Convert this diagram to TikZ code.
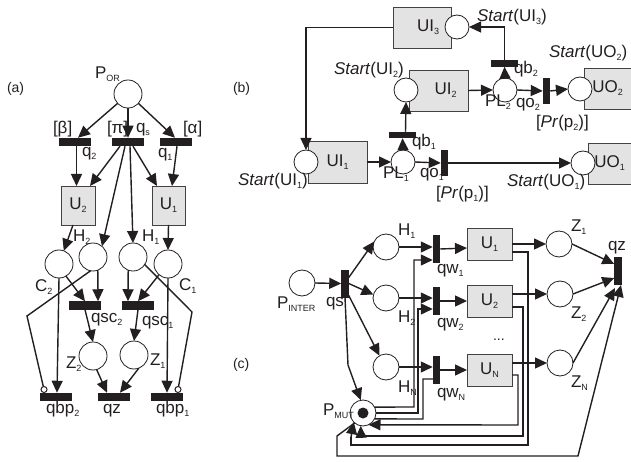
\documentclass[tikz,border=0pt]{standalone}
\usepackage{fontspec}
\setmainfont{Liberation Sans}
\usetikzlibrary{arrows.meta}
\newcommand\sbb[1]{\raisebox{-3pt}{\fontsize{9}{10}\selectfont #1}}
\definecolor{ink}{HTML}{231F20}
\tikzset{
 plc/.style={circle,draw=ink,fill=white,line width=0.8pt,minimum size=#1,inner sep=0pt,outer sep=0pt},
 plc/.default=28pt,
 brh/.style={rectangle,fill=ink,minimum width=32pt,minimum height=8.5pt,inner sep=0pt,outer sep=0pt},
 brhs/.style={rectangle,fill=ink,minimum width=27pt,minimum height=6.5pt,inner sep=0pt,outer sep=0pt},
 brv/.style={rectangle,fill=ink,minimum width=7.5pt,minimum height=28pt,inner sep=0pt,outer sep=0pt},
 ubox/.style={rectangle,draw=ink!85,fill=black!11,line width=0.9pt,minimum width=#1,inner sep=0pt,outer sep=0pt,text=ink},
 lbl/.style={anchor=base west,inner sep=0pt,outer sep=0pt,text=ink},
 arr/.style={draw=ink,line width=1.4pt,-{Triangle[length=12pt,width=11pt]}},
 wire/.style={draw=ink,line width=1.4pt},
 inh/.style={circle,draw=ink,fill=white,line width=1pt,minimum size=6pt,inner sep=0pt,outer sep=0pt},
 tok/.style={circle,fill=ink,minimum size=11pt,inner sep=0pt,outer sep=0pt}
}
\begin{document}
\begin{tikzpicture}[x=1pt,y=-1pt,font=\fontsize{17}{19}\selectfont]
\useasboundingbox (0,0) rectangle (631,462);
% ---------- (a)
\node[plc] (por) at (128,94) {};
\node[brh] (bb) at (75,142) {};
\node[brh] (pb) at (128,142) {};
\node[brh] (ab) at (176,142) {};
\node[ubox=34pt,minimum height=39pt] (u2) at (78,205.5) {U\sbb{2}};
\node[ubox=33pt,minimum height=39pt] (u1) at (168.5,205.5) {U\sbb{1}};
\node[plc] (c2) at (59,264) {};
\node[plc] (h2) at (93,257) {};
\node[plc] (h1) at (133,257) {};
\node[plc] (c1) at (168,264) {};
\node[brh] (qsc2) at (85,305.5) {};
\node[brh] (qsc1) at (138,305.5) {};
\node[plc] (z2) at (93,356) {};
\node[plc] (z1) at (134,355) {};
\node[brh] (qbp2) at (56,397) {};
\node[brh] (qza) at (114,397) {};
\node[brh] (qbp1) at (167,397) {};
\node[inh] (i2) at (44,389.5) {};
\node[inh] (i1) at (178,389.5) {};
\coordinate (k2) at (27,316);
\coordinate (k1) at (192,312);
\draw[arr] (por.222) -- ([xshift=3]bb.north);
\draw[arr] (por.south) -- (pb.north);
\draw[arr] (por.-42) -- ([xshift=-1]ab.north);
\draw[arr] ([xshift=1.5]bb.south) -- ([xshift=-1.5]u2.north);
\draw[arr] ([xshift=-8]pb.south) -- ([xshift=12]u2.north);
\draw[arr] ([xshift=-3]pb.south) -- (h2.50);
\draw[arr] ([xshift=2]pb.south) -- (h1.north);
\draw[arr] ([xshift=5]pb.south) -- ([xshift=-11.5]u1.north);
\draw[arr] ([xshift=1]ab.south) -- ([xshift=3.5]u1.north);
\draw[arr] ([xshift=-5]u2.south) -- (c2.70);
\draw[arr] (u1.south) -- (c1.north);
\draw[arr] (h2.-70) -- ([xshift=13]qsc2.north);
\draw[arr] (c2.-60) -- (qsc2.north);
\draw[arr] (h1.-110) -- ([xshift=-10]qsc1.north);
\draw[arr] (c1.-130) -- (qsc1.north);
\draw[arr] (qsc2.south) -- (z2.north);
\draw[arr] (qsc1.south) -- (z1.north);
\draw[arr] (z2.-75) -- ([xshift=-7]qza.north);
\draw[arr] (z1.-70) -- ([xshift=6]qza.north);
\draw[arr] (c2.south) -- ([xshift=1]qbp2.north);
\draw[arr] (c1.south) -- (qbp1.north);
\draw[wire] (h2.-100) -- (k2) -- (i2);
\draw[wire] (h1.-33) -- (k1) -- (i1);
% ---------- (b)
\node[ubox=58pt,minimum height=41pt] (ui3) at (422,27.5) {\hspace*{12pt}UI\sbb{3}};
\node[ubox=59pt,minimum height=41pt] (ui2) at (438.5,90.5) {\hspace*{14pt}UI\sbb{2}};
\node[ubox=59pt,minimum height=42pt] (ui1) at (337.5,162) {UI\sbb{1}};
\node[ubox=47pt,minimum height=41pt] (uo2) at (607.5,88.5) {UO\sbb{2}};
\node[ubox=43pt,minimum height=41pt] (uo1) at (609.5,163.5) {UO\sbb{1}};
\node[plc=24pt] (sui3) at (457,27) {};
\node[plc=24pt] (sui2) at (406,90) {};
\node[plc=24pt] (sui1) at (306,162) {};
\node[plc=24pt] (pl1) at (403,162) {};
\node[plc=24pt] (pl2) at (505,90) {};
\node[plc=24pt] (suo2) at (580,89) {};
\node[plc=24pt] (suo1) at (583,163) {};
\node[brhs] (qb1) at (402.5,135) {};
\node[brhs] (qb2) at (504.5,63.5) {};
\node[brv,minimum height=26pt] (qo2) at (546.5,91) {};
\node[brv,minimum height=26pt] (qo1) at (444.5,163) {};
\draw[arr] (ui3.west) -| (sui1.north);
\draw[arr] (ui1.east) -- (pl1.west);
\draw[arr] (pl1.north) -- (qb1.south);
\draw[arr] ([xshift=3]qb1.north) -- (sui2.south);
\draw[arr] (pl1.east) -- (qo1.west);
\draw[arr] (qo1.east) -- (suo1.west);
\draw[arr] (ui2.east) -- (pl2.west);
\draw[arr] (pl2.north) -- (qb2.south);
\draw[arr] (qb2.north) |- (sui3.east);
\draw[arr] (pl2.east) -- (qo2.west);
\draw[arr] (qo2.east) -- (suo2.west);
% ---------- (c)
\node[plc=26pt] (pint) at (302,283) {};
\node[brv] (qsn) at (345,283.5) {};
\node[plc=26pt] (ch1) at (386,247) {};
\node[plc=26pt] (ch2) at (386,298) {};
\node[plc=26pt] (chn) at (386,367) {};
\node[brv] (qw1) at (436.5,249) {};
\node[brv] (qw2) at (436.5,301) {};
\node[brv] (qwn) at (436.5,370) {};
\node[ubox=45pt,minimum height=32pt] (cu1) at (489.5,244) {U\sbb{1}};
\node[ubox=45pt,minimum height=32pt] (cu2) at (489.5,301) {U\sbb{2}};
\node[ubox=45pt,minimum height=32pt] (cun) at (489.5,370) {U\sbb{N}};
\node[plc=26pt] (cz1) at (559,244) {};
\node[plc=26pt] (cz2) at (560,294) {};
\node[plc=26pt] (czn) at (560,363) {};
\node[brv] (qzc) at (618,271) {};
\node[plc=26pt] (pm) at (363,413) {};
\node[tok] (tk) at (363,413) {};
\draw[arr] (pint.east) -- (qsn.west);
\draw[arr] ([yshift=6]qsn.east) -- (ch1.155);
\draw[arr] (qsn.east) -- (ch2.165);
\draw[arr] ([yshift=-12]qsn.east) -- (chn.120);
\draw[arr] (qsn.south) -- (348,365) -- (pm.100);
\draw[arr] (ch1.east) -- ([yshift=2]qw1.west);
\draw[arr] (ch2.east) -- ([yshift=3]qw2.west);
\draw[arr] (chn.east) -- ([yshift=3]qwn.west);
\draw[arr] (qw1.east) -- ([yshift=1]qw1.east -| cu1.west);
\draw[arr] (qw2.east) -- (cu2.west);
\draw[arr] (qwn.east) -- (cun.west);
\draw[arr] (cu1.east) -- (cz1.west);
\draw[arr] ([yshift=7]cu2.east) -- (cz2.west);
\draw[arr] ([yshift=7]cun.east) -- (czn.west);
\draw[arr] (cz1.east) -- ([yshift=7]qzc.west);
\draw[arr] (cz2.east) -- ([yshift=-7]qzc.west);
\draw[arr] (czn.east) -- ([xshift=-3,yshift=-3]qzc.south);
\draw[arr] (pm.27) -- (414,407) -- (414,260) -- ([yshift=-11]qw1.west);
\draw[arr] (pm.0) -- (418,413) -- (418,309) -- ([yshift=-8]qw2.west);
\draw[wire] (pm.-27) -- (423,419) -- (423,379) -- ([yshift=-9]qwn.center);
\draw[wire] ([yshift=-8]cu1.east) -- (528,252) -- (528,445) -- (351,445) -- (351,437);
\draw[arr] (351,437) -- (pm.-135);
\draw[wire] ([yshift=-6]cu2.east) -- (523,307) -- (523,436) -- (361,436);
\draw[arr] (361,436) -- (pm.-100);
\draw[arr] ([yshift=-5]cun.east) -- (518,375) -- (518,425) -- (pm.-65);
\draw[arr] (pm.-130) -- (337,436) -- (337,456) -- (578,456) -- ([xshift=3]qzc.south);
% ---------- labels
\node[lbl,font=\fontsize{14}{16}\selectfont] (ta) at (7,93) {(a)};
\node[lbl] (t1) at (95,79) {P\sbb{OR}};
\node[lbl] (t2) at (53,134) {[β]};
\node[lbl] (t3) at (107,134) {[π]};
\node[lbl] (t4) at (136,133) {q\sbb{s}};
\node[lbl] (t5) at (183,134) {[α]};
\node[lbl] (t6) at (82,157) {q\sbb{2}};
\node[lbl] (t7) at (158,158) {q\sbb{1}};
\node[lbl] (t8) at (73,241) {H\sbb{2}};
\node[lbl] (t9) at (142,241) {H\sbb{1}};
\node[lbl] (t10) at (35,291) {C\sbb{2}};
\node[lbl] (t11) at (179,290) {C\sbb{1}};
\node[lbl] (t12) at (91,322) {qsc\sbb{2}};
\node[lbl] (t13) at (142,325) {qsc\sbb{1}};
\node[lbl] (t14) at (66,368) {Z\sbb{2}};
\node[lbl] (t15) at (150,365) {Z\sbb{1}};
\node[lbl] (t16) at (46,413) {qbp\sbb{2}};
\node[lbl] (t17) at (103,413) {qz};
\node[lbl] (t18) at (156,413) {qbp\sbb{1}};
\node[lbl,font=\fontsize{14}{16}\selectfont] (tb) at (233,93) {(b)};
\node[lbl] (b1) at (334,75) {\textit{Start}(UI\sbb{2})};
\node[lbl] (b2) at (238,186) {\textit{Start}(UI\sbb{1})};
\node[lbl] (b3) at (383,179) {PL\sbb{1}};
\node[lbl] (b4) at (412,147) {qb\sbb{1}};
\node[lbl] (b5) at (420,178) {qo\sbb{1}};
\node[lbl] (b6) at (477,22) {\textit{Start}(UI\sbb{3})};
\node[lbl] (b7) at (549,58) {\textit{Start}(UO\sbb{2})};
\node[lbl] (b8) at (514,74) {qb\sbb{2}};
\node[lbl] (b9) at (485,107) {PL\sbb{2}};
\node[lbl] (b10) at (516,108) {qo\sbb{2}};
\node[lbl] (b11) at (536,128) {[\textit{Pr}(p\sbb{2})]};
\node[lbl] (b12) at (436,199) {[\textit{Pr}(p\sbb{1})]};
\node[lbl] (b13) at (507,187) {\textit{Start}(UO\sbb{1})};
\node[lbl,font=\fontsize{14}{16}\selectfont] (tc) at (233,368) {(c)};
\node[lbl] (c1l) at (398,236) {H\sbb{1}};
\node[lbl] (c2l) at (398,322) {H\sbb{2}};
\node[lbl] (c3l) at (398,392) {H\sbb{N}};
\node[lbl] (c4l) at (277,308) {P\sbb{INTER}};
\node[lbl] (c5l) at (326,306) {qs};
\node[lbl] (c6l) at (323,415) {P\sbb{MUT}};
\node[lbl] (c7l) at (437,273) {qw\sbb{1}};
\node[lbl] (c8l) at (437,327) {qw\sbb{2}};
\node[lbl] (c9l) at (437,397) {qw\sbb{N}};
\node[lbl] (c10l) at (571,232) {Z\sbb{1}};
\node[lbl] (c11l) at (571,318) {Z\sbb{2}};
\node[lbl] (c12l) at (571,387) {Z\sbb{N}};
\node[lbl] (c13l) at (608,250) {qz};
\node[lbl,font=\fontsize{14}{16}\selectfont] (c14l) at (493,340) {...};
\end{tikzpicture}
\end{document}
